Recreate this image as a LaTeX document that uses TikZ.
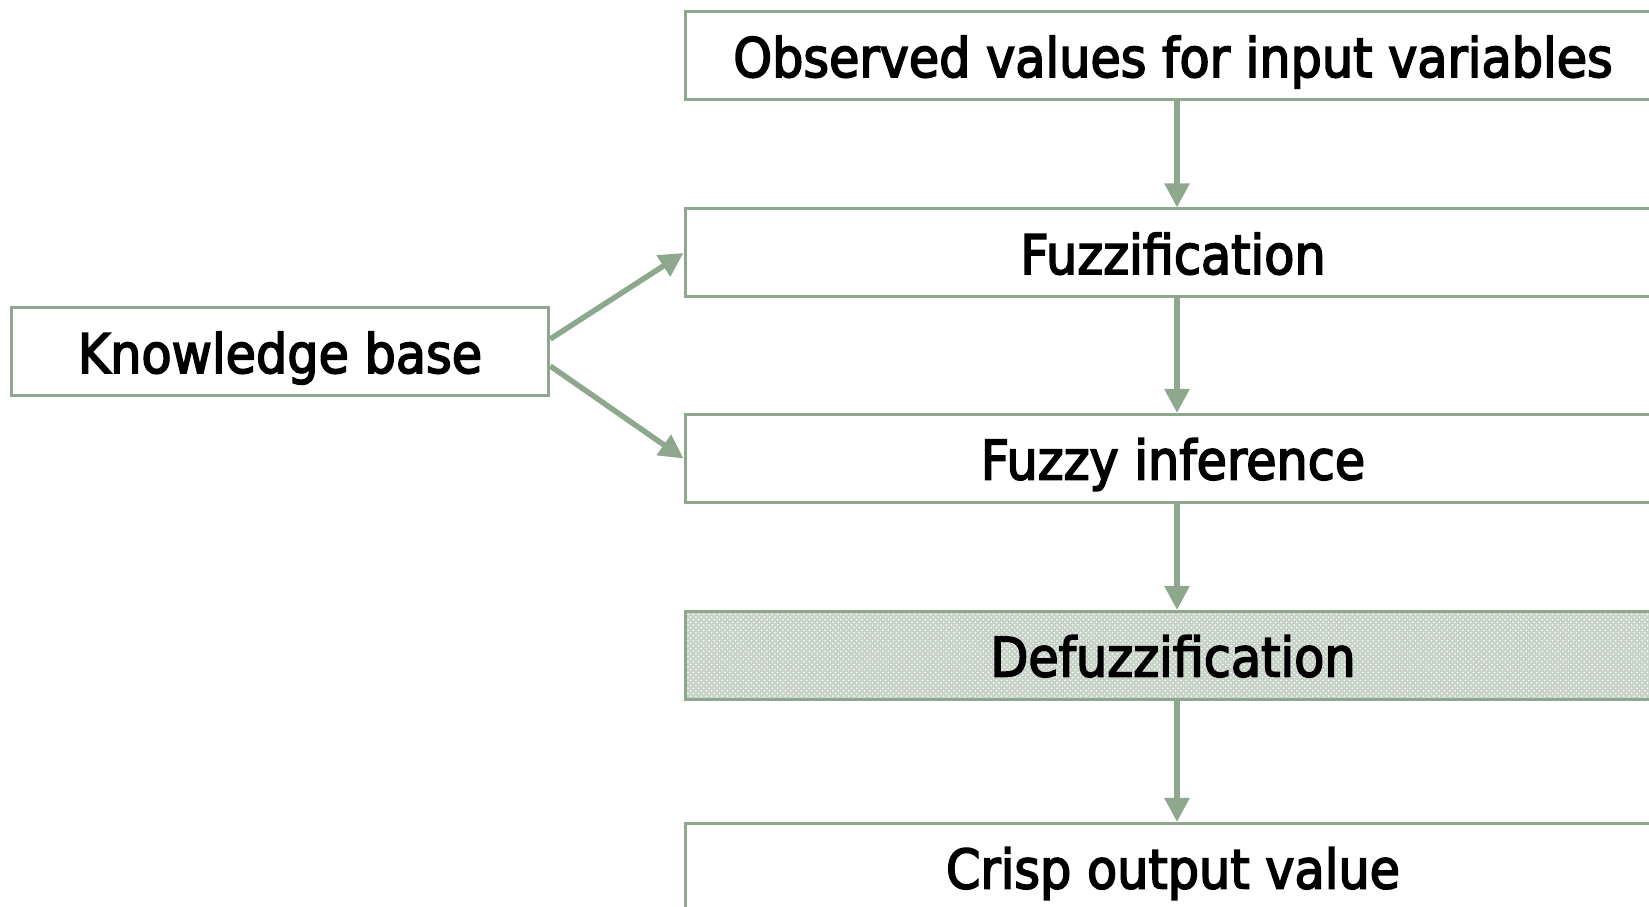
\documentclass[tikz,border=0pt]{standalone}
\usepackage{fontspec}
\setmainfont[FakeStretch=0.905,FakeBold=3]{DejaVu Sans}
\usepackage{tikz}
\usetikzlibrary{arrows.meta, positioning, patterns}
\definecolor{sage}{RGB}{141,168,141}

\begin{document}
\begin{tikzpicture}[stage/.style={rectangle,draw=sage,line width=0.06cm,minimum width=19.52cm,minimum height=1.76cm,inner sep=0pt,text height=1.0cm,text depth=0.16cm,font=\fontsize{31}{36}\selectfont}, shaded/.style={stage,preaction={fill=sage!50},pattern=crosshatch dots,pattern color=white}, ->, >={Triangle[length=0.48cm,width=0.48cm]}, line width=0.11cm, draw=sage, node distance=2.16cm]
        \useasboundingbox (0,0) rectangle (32.98,-18.14);
        \node[stage] (obs) at (23.46,-1.12) {Observed values for input variables};
        \node[stage, below=2.12cm of obs] (fuzz) {Fuzzification};
        \node[stage, below=2.29cm of fuzz] (infer) {Fuzzy inference};
        \node[shaded, below=2.12cm of infer] (defuzz) {Defuzzification};
        \node[stage, below=2.42cm of defuzz] (crisp) {Crisp output value};
        \node[stage, minimum width=10.75cm] (kb) at (5.6,-7.04) {Knowledge base};

        \path ([xshift=0.08cm]obs.south) edge ([xshift=0.08cm]fuzz.north);
        \path ([xshift=0.08cm]fuzz.south) edge ([xshift=0.08cm]infer.north);
        \path ([xshift=0.08cm]infer.south) edge ([xshift=0.08cm]defuzz.north);
        \path ([xshift=0.08cm]defuzz.south) edge ([xshift=0.08cm]crisp.north);
        \path ([yshift=0.26cm]kb.east) edge (fuzz.west);
        \path ([yshift=-0.28cm]kb.east) edge (infer.west);
    \end{tikzpicture}
\end{document}
